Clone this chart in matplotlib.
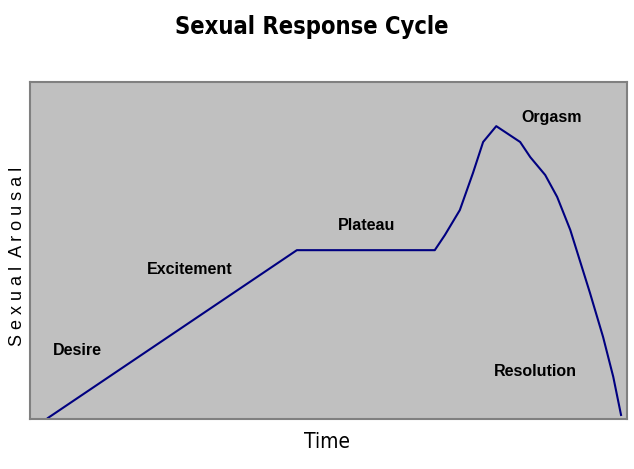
import matplotlib
matplotlib.use("Agg")
import matplotlib.pyplot as plt

# curve (time and arousal, both 0-100)
time = [3.0, 44.7, 67.8, 69.5, 72.0, 74.2, 75.9, 78.1, 82.1, 83.8, 86.3, 88.3,
        90.5, 93.8, 96.0, 97.7, 99.0]
arousal = [0.3, 50.1, 50.1, 54.6, 62.0, 73.0, 82.2, 86.9, 82.2, 77.7, 72.4, 65.9,
           56.1, 37.4, 24.3, 12.5, 1.2]

# phase labels and where they sit
phases = ["Desire", "Excitement", "Plateau", "Orgasm", "Resolution"]
phase_x = [8.0, 26.8, 56.3, 87.3, 84.7]
phase_y = [20.2, 44.5, 57.3, 89.6, 14.0]

plt.rcParams["font.family"] = ["Liberation Sans", "DejaVu Sans"]
narrow = ["Liberation Sans Narrow", "DejaVu Sans"]

fig = plt.figure(figsize=(6.34, 4.69), dpi=100)
ax = fig.add_axes([30 / 634, 50 / 469, 597 / 634, 337 / 469])
ax.set_facecolor("#c0c0c0")
for side in ax.spines.values():
    side.set_color("#808080")
    side.set_linewidth(1.5)

ax.plot(time, arousal, color="#000080", linewidth=1.5)

for name, x, y in zip(phases, phase_x, phase_y):
    ax.text(x, y, name, ha="center", va="center", fontsize=11.5, fontweight="bold")

ax.set_xlim(0, 100)
ax.set_ylim(0, 100)
ax.set_xticks([])
ax.set_yticks([])

fig.text(327 / 634, 1 - 448 / 469, "Time", ha="center", va="baseline", fontsize=15,
         family=narrow, fontstretch="condensed")
fig.text(18 / 634, 1 - 256 / 469, "S e x u a l  A r o u s a l",
         rotation=90, ha="center", va="center", fontsize=13)
fig.text(312 / 634, 1 - 34 / 469, "Sexual Response Cycle", ha="center", va="baseline",
         fontsize=17, fontweight="bold", family=narrow, fontstretch="condensed")

fig.savefig("out.png", dpi=100)
